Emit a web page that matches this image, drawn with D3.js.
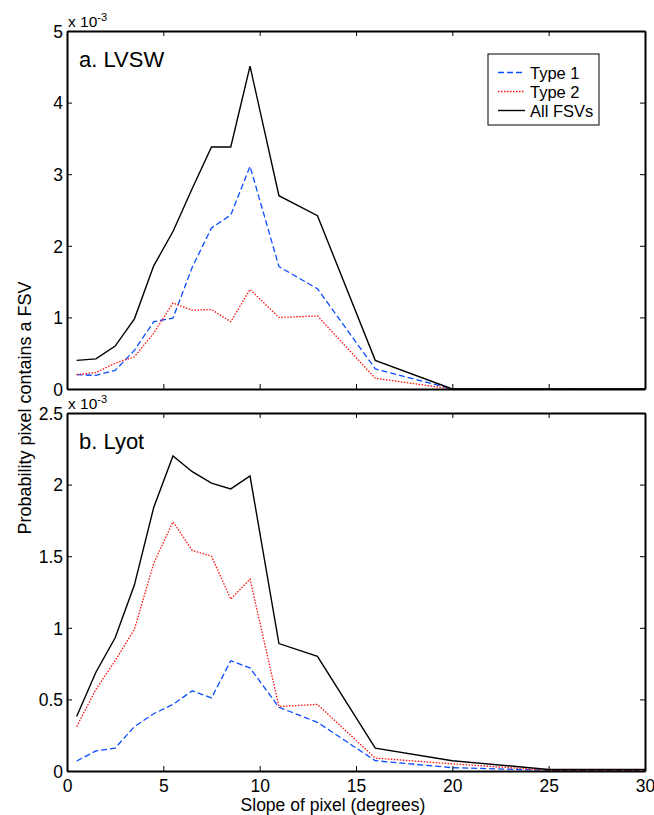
<!DOCTYPE html>
<html>
<head>
<meta charset="utf-8">
<script src="https://cdn.jsdelivr.net/npm/d3@7"></script>
<style>
  body { margin: 0; background: #fff; }
  svg text { font-family: "Liberation Sans", Arial, sans-serif; fill: #000; }
</style>
</head>
<body>
<div id="page"></div>
<script>
// slope bins (degrees)
var slopes = [0.5, 1.5, 2.5, 3.5, 4.5, 5.5, 6.5, 7.5, 8.5, 9.5, 11, 13, 16, 20, 25, 30];

// panel a. LVSW (x 10^-3)
var lvswType1 = [0.2, 0.19, 0.26, 0.54, 0.94, 0.99, 1.7, 2.25, 2.43, 3.11, 1.71, 1.4, 0.28, 0, 0, 0];
var lvswType2 = [0.2, 0.23, 0.36, 0.45, 0.78, 1.2, 1.1, 1.11, 0.94, 1.39, 1.0, 1.02, 0.15, 0, 0, 0];
var lvswAll = [0.4, 0.42, 0.6, 0.98, 1.72, 2.2, 2.8, 3.38, 3.38, 4.51, 2.7, 2.42, 0.4, 0, 0, 0];

// panel b. Lyot (x 10^-3)
var lyotType1 = [0.07, 0.14, 0.16, 0.31, 0.4, 0.465, 0.56, 0.51, 0.77, 0.72, 0.445, 0.34, 0.072, 0.023, 0.005, 0.005];
var lyotType2 = [0.31, 0.57, 0.77, 0.99, 1.45, 1.74, 1.54, 1.5, 1.2, 1.34, 0.45, 0.465, 0.09, 0.05, 0.005, 0.005];
var lyotAll = [0.38, 0.69, 0.93, 1.3, 1.84, 2.2, 2.09, 2.01, 1.97, 2.06, 0.89, 0.8, 0.16, 0.072, 0.01, 0.01];

var xTicks = [0, 5, 10, 15, 20, 25, 30];
var seriesNames = ["Type 1", "Type 2", "All FSVs"];

var styles = [
  {color: "#0a4cff", dash: "6,3", width: 1.3},
  {color: "#ff1010", dash: "1.5,1.5", width: 1.3},
  {color: "#000", dash: null, width: 1.4}
];

var width = 654, height = 815;
var left = 67, right = 645;

var svg = d3.select("#page").append("svg")
    .attr("width", width)
    .attr("height", height);

var x = d3.scaleLinear().domain([0, 30]).range([left, right]);

var drawPanel = function(top, bottom, yMax, yTicks, title, data, showXLabels, showLegend) {
  var y = d3.scaleLinear().domain([0, yMax]).range([bottom, top]);
  var g = svg.append("g");

  // lines
  var line = d3.line()
      .x(function(d) { return x(d[0]); })
      .y(function(d) { return y(d[1]); });

  data.forEach(function(vals, i) {
    var pts = slopes.map(function(s, j) { return [s, vals[j]]; });
    g.append("path")
        .datum(pts)
        .attr("fill", "none")
        .attr("stroke", styles[i].color)
        .attr("stroke-width", styles[i].width)
        .attr("stroke-dasharray", styles[i].dash)
        .attr("d", line);
  });

  // axes (ticks inward on all four sides)
  var bottomAxis = d3.axisBottom(x).tickValues(xTicks).tickSizeInner(-5).tickSizeOuter(0)
      .tickFormat(showXLabels ? d3.format("d") : "");
  var topAxis = d3.axisTop(x).tickValues(xTicks).tickSizeInner(-5).tickSizeOuter(0).tickFormat("");
  var leftAxis = d3.axisLeft(y).tickValues(yTicks).tickSizeInner(-5).tickSizeOuter(0)
      .tickFormat(function(d) { return d; });
  var rightAxis = d3.axisRight(y).tickValues(yTicks).tickSizeInner(-5).tickSizeOuter(0).tickFormat("");

  var axes = [
    g.append("g").attr("transform", "translate(0," + bottom + ")").call(bottomAxis),
    g.append("g").attr("transform", "translate(0," + top + ")").call(topAxis),
    g.append("g").attr("transform", "translate(" + left + ",0)").call(leftAxis),
    g.append("g").attr("transform", "translate(" + right + ",0)").call(rightAxis)
  ];
  axes.forEach(function(a) {
    a.select(".domain").attr("stroke", "#000").attr("stroke-width", 2);
    a.selectAll(".tick line").attr("stroke", "#000").attr("stroke-width", 1);
    a.selectAll(".tick text")
        .style("font-family", "'Liberation Sans', Arial, sans-serif")
        .style("font-size", "17.5px")
        .attr("fill", "#000");
  });
  axes[0].selectAll(".tick text").attr("dy", null).attr("y", 21);
  axes[2].selectAll(".tick text").attr("x", -4).attr("dy", "0.36em");

  // exponent label
  var ex = g.append("text")
      .attr("x", left + 1)
      .attr("y", top - 4)
      .style("font-size", "15.5px");
  ex.append("tspan").text("x 10");
  ex.append("tspan").attr("dy", -6).style("font-size", "11px").text("-3");

  // panel title
  g.append("text")
      .attr("x", left + 12)
      .attr("y", top + 36)
      .style("font-size", "22px")
      .text(title);

  if (showLegend) {
    var lg = g.append("g").attr("transform", "translate(488,54)");
    lg.append("rect")
        .attr("width", 111).attr("height", 71)
        .attr("fill", "#fff").attr("stroke", "#000").attr("stroke-width", 1);
    seriesNames.forEach(function(name, i) {
      var yy = 18.5 + i * 19;
      lg.append("line")
          .attr("x1", 10).attr("x2", 37).attr("y1", yy).attr("y2", yy)
          .attr("stroke", styles[i].color)
          .attr("stroke-width", styles[i].width)
          .attr("stroke-dasharray", styles[i].dash);
      lg.append("text")
          .attr("x", 42).attr("y", yy + 6)
          .style("font-size", "16.5px")
          .text(name);
    });
  }
};

drawPanel(31, 389, 5, [0, 1, 2, 3, 4, 5], "a. LVSW", [lvswType1, lvswType2, lvswAll], false, true);
drawPanel(413, 771, 2.5, [0, 0.5, 1, 1.5, 2, 2.5], "b. Lyot", [lyotType1, lyotType2, lyotAll], true, false);

// axis titles
svg.append("text")
    .attr("x", 333)
    .attr("y", 811)
    .attr("text-anchor", "middle")
    .style("font-size", "17.5px")
    .text("Slope of pixel (degrees)");

svg.append("text")
    .attr("transform", "translate(31,408) rotate(-90)")
    .attr("text-anchor", "middle")
    .style("font-size", "18px")
    .text("Probability pixel contains a FSV");
</script>
</body>
</html>
